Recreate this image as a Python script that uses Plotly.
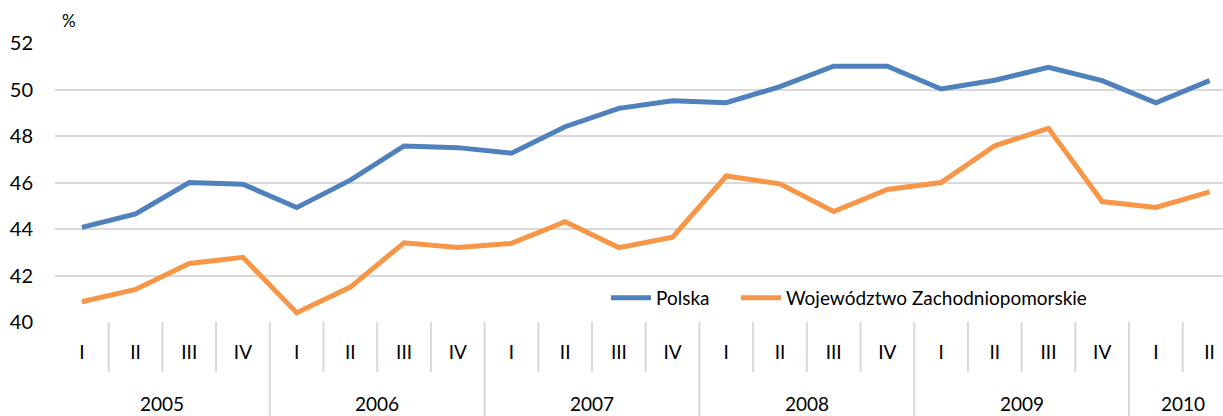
import plotly.graph_objects as go

years = ["2005", "2006", "2007", "2008", "2009", "2010"]
quarters_per_year = [4, 4, 4, 4, 4, 2]
quarter_names = ["I", "II", "III", "IV"]
quarters = [q for n in quarters_per_year for q in quarter_names[:n]]

polska = [44.07, 44.65, 46.0, 45.93, 44.92, 46.1, 47.57, 47.5, 47.26, 48.4, 49.19, 49.52,
          49.43, 50.12, 51.0, 51.0, 50.02, 50.4, 50.95, 50.38, 49.43, 50.38]
zachodniopomorskie = [40.87, 41.4, 42.52, 42.78, 40.4, 41.5, 43.41, 43.2, 43.38, 44.31, 43.2, 43.65,
                      46.28, 45.94, 44.75, 45.7, 46.0, 47.58, 48.33, 45.18, 44.93, 45.6]
y_ticks = [40, 42, 44, 46, 48, 50, 52]

x = list(range(len(quarters)))
FONT = "Lato"
FS = 19
GRID = "#D9D9D9"
W, H = 1223, 416
ML, MT, MB = 55, 43, 94
PW, PH = W - ML, H - MT - MB

fig = go.Figure()
fig.add_trace(go.Scatter(x=x, y=polska, mode="lines", name="Polska",
                         line=dict(color="#4F81BD", width=5), legend="legend"))
fig.add_trace(go.Scatter(x=x, y=zachodniopomorskie, mode="lines", name="Województwo Zachodniopomorskie",
                         line=dict(color="#F79646", width=5), legend="legend2"))

shapes = []
annotations = []
start = 0
for yr, n in zip(years, quarters_per_year):
    annotations.append(dict(x=start + (n - 1) / 2, y=-(403 - 322) / PH, xref="x", yref="paper", text=yr,
                            showarrow=False, xanchor="center", yanchor="middle",
                            font=dict(family=FONT, size=FS, color="#000000")))
    for k in range(n):
        pos = start + k + 0.5
        is_year_end = (k == n - 1)
        shapes.append(dict(type="line", xref="x", yref="paper", x0=pos, x1=pos,
                           y0=0, y1=-(416 - 322) / PH if is_year_end else -(372 - 322) / PH,
                           line=dict(color=GRID, width=2), layer="below"))
    start += n

annotations.append(dict(x=(69 - ML) / PW, y=(322 - 21) / PH, xref="paper", yref="paper", text="%",
                        showarrow=False, xanchor="center", yanchor="middle",
                        font=dict(family=FONT, size=17, color="#000000")))

legend_common = dict(orientation="h", y=(322 - 298) / PH, xanchor="left", yanchor="middle",
                     bgcolor="rgba(255,255,255,0)", font=dict(family=FONT, size=FS), itemwidth=40)

fig.update_layout(
    width=W, height=H,
    margin=dict(l=ML, r=0, t=MT, b=MB, pad=0),
    paper_bgcolor="white", plot_bgcolor="white",
    font=dict(family=FONT, size=FS, color="#000000"),
    xaxis=dict(range=[-0.5, 21.25], tickvals=x, ticktext=quarters, showgrid=False,
               zeroline=False, showline=False, ticks="outside", ticklen=13,
               tickcolor="rgba(0,0,0,0)", tickfont=dict(family=FONT, size=FS)),
    yaxis=dict(range=[40, 52], tickvals=y_ticks, showgrid=True, gridcolor=GRID, gridwidth=2,
               zeroline=False, showline=False, ticks="outside", ticklen=17,
               tickcolor="rgba(0,0,0,0)", tickfont=dict(family=FONT, size=20)),
    legend=dict(x=(606 - ML) / PW, **legend_common),
    legend2=dict(x=(736 - ML) / PW, **legend_common),
    shapes=shapes,
    annotations=annotations,
    showlegend=True,
)

fig.write_html("out.html", config={"displayModeBar": False},
               post_script="document.body.style.margin='0';document.body.style.overflow='hidden';")
